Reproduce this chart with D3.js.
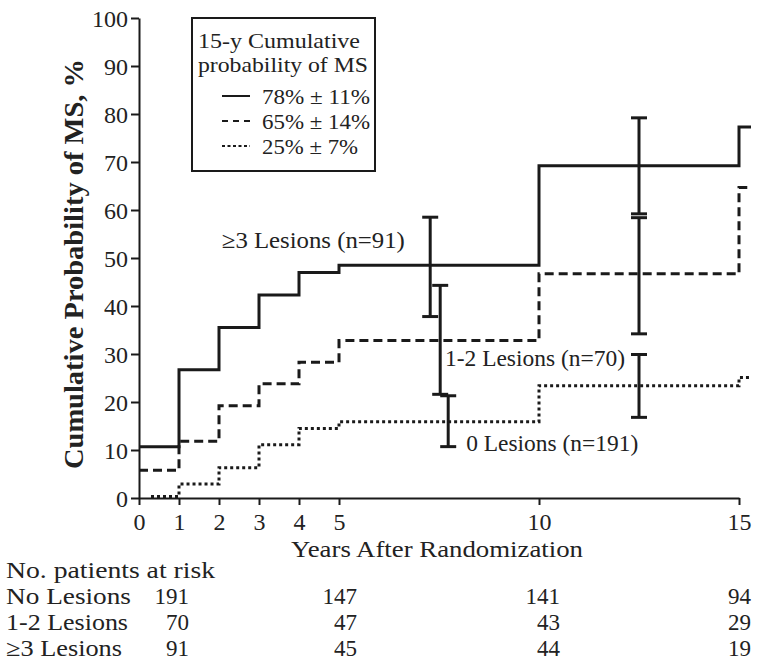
<!DOCTYPE html>
<html>
<head>
<meta charset="utf-8">
<script src="https://cdn.jsdelivr.net/npm/d3@7"></script>
<style>
  html, body { margin: 0; padding: 0; background: #fff; }
  svg text { font-family: "Liberation Serif", "Times New Roman", serif; fill: #222; }
</style>
</head>
<body>
<svg id="chart" width="762" height="667"></svg>
<script>
// ---- data ----
const xTicks = [0, 1, 2, 3, 4, 5, 10, 15];
const yTicks = [0, 10, 20, 30, 40, 50, 60, 70, 80, 90, 100];

const stepTimesSolid  = [0, 1, 2, 3, 4, 5, 10, 15];
const valuesSolid     = [10.7, 26.7, 35.5, 42.3, 47.0, 48.5, 69.2, 77.3];
const stepTimesDashed = [0, 1, 2, 3, 4, 5, 10, 15];
const valuesDashed    = [5.8, 11.8, 19.2, 23.8, 28.3, 32.8, 46.7, 64.7];
const stepTimesDotted = [0.3, 1, 2, 3, 4, 5, 10, 15];
const valuesDotted    = [0.3, 2.9, 6.3, 11.1, 14.5, 15.9, 23.4, 25.1];
const curveEnd = 15.3;

// error bars: [time, low, high]
const errSolid  = [[7.28, 37.8, 58.5], [12.5, 59.2, 79.2]];
const errDashed = [[7.53, 21.6, 44.3], [12.5, 34.2, 58.4]];
const errDotted = [[7.73, 10.7, 21.3], [12.5, 16.8, 29.9]];

const seriesNames  = ["\u22653 Lesions (n=91)", "1-2 Lesions (n=70)", "0 Lesions (n=191)"];
const legendTitle  = ["15-y Cumulative", "probability of MS"];
const legendLabels = ["78% \u00b1 11%", "65% \u00b1 14%", "25% \u00b1 7%"];
const riskTitle = "No. patients at risk";
const riskRowLabels = ["No Lesions", "1-2 Lesions", "\u22653 Lesions"];
const riskNoLesions = [191, 147, 141, 94];
const riskOneTwo    = [70, 47, 43, 29];
const riskThreePlus = [91, 45, 44, 19];

// ---- layout ----
const svg = d3.select("#chart");
const x = d3.scaleLinear().domain([0, 15]).range([139, 739]);
const y = d3.scaleLinear().domain([0, 100]).range([498, 18]);
const ink = "#1a1a1a";

function txt(px, py, s, size, width, anchor) {
  const t = svg.append("text").attr("x", px).attr("y", py)
    .attr("font-size", size).text(s);
  if (anchor) t.attr("text-anchor", anchor);
  if (width) t.attr("textLength", width).attr("lengthAdjust", "spacingAndGlyphs");
  return t;
}

// axes
const yAxis = svg.append("g").attr("transform", `translate(${x(0)},0)`)
  .call(d3.axisLeft(y).tickValues(yTicks).tickSize(8).tickPadding(3).tickSizeOuter(0));
yAxis.select(".domain").attr("stroke", ink).attr("stroke-width", 2);
yAxis.selectAll(".tick line").attr("stroke", ink).attr("stroke-width", 2);
yAxis.selectAll(".tick text").attr("font-size", 24).attr("fill", "#222")
  .attr("dy", "0.34em");

const xAxis = svg.append("g").attr("transform", `translate(0,${y(0)})`)
  .call(d3.axisBottom(x).tickValues(xTicks).tickSize(7).tickPadding(8).tickSizeOuter(0));
xAxis.select(".domain").attr("stroke", ink).attr("stroke-width", 2);
xAxis.selectAll(".tick line").attr("stroke", ink).attr("stroke-width", 2);
xAxis.selectAll(".tick text").attr("font-size", 24).attr("fill", "#222");

// axis titles
svg.append("text")
  .attr("transform", `translate(83,264) rotate(-90)`)
  .attr("text-anchor", "middle").attr("font-size", 28).attr("font-weight", "bold")
  .attr("textLength", 410).attr("lengthAdjust", "spacingAndGlyphs")
  .text("Cumulative Probability of MS, %");
txt(291, 557, "Years After Randomization", 24, 292);

// curves
function stepPoints(times, vals) {
  const pts = times.map((t, i) => [t, vals[i]]);
  pts.push([curveEnd, vals[vals.length - 1]]);
  return pts;
}
const line = d3.line().x(d => x(d[0])).y(d => y(d[1])).curve(d3.curveStepAfter);
const styles = [
  { times: stepTimesSolid, vals: valuesSolid, dash: null, err: errSolid },
  { times: stepTimesDashed, vals: valuesDashed, dash: "9,5", err: errDashed },
  { times: stepTimesDotted, vals: valuesDotted, dash: "3,3", err: errDotted }
];
styles.forEach(s => {
  svg.append("path").datum(stepPoints(s.times, s.vals))
    .attr("d", line).attr("fill", "none").attr("stroke", ink)
    .attr("stroke-width", 3).attr("stroke-dasharray", s.dash);
});

// error bars
styles.forEach(s => {
  const g = svg.append("g").attr("stroke", ink).attr("stroke-width", 3);
  s.err.forEach(([t, lo, hi]) => {
    g.append("line").attr("x1", x(t)).attr("x2", x(t)).attr("y1", y(lo)).attr("y2", y(hi));
    [lo, hi].forEach(v => g.append("line")
      .attr("x1", x(t) - 8).attr("x2", x(t) + 8).attr("y1", y(v)).attr("y2", y(v)));
  });
});

// series labels
const labelPos = [[2.07, 52.0], [7.65, 27.5], [8.18, 9.8]];
const labelWidths = [183, 180, 172];
seriesNames.forEach((n, i) => {
  txt(x(labelPos[i][0]), y(labelPos[i][1]), n, 23, labelWidths[i]);
});

// legend
svg.append("rect").attr("x", 192).attr("y", 18).attr("width", 183).attr("height", 153)
  .attr("fill", "#fff").attr("stroke", ink).attr("stroke-width", 2);
txt(198, 48, legendTitle[0], 21.5, 162);
txt(198, 72, legendTitle[1], 21.5, 170);
const legDash = [null, "6,5", "3,2.5"];
const legWidths = [108, 108, 96];
legendLabels.forEach((l, i) => {
  const yy = 96 + i * 25;
  svg.append("line").attr("x1", 222).attr("x2", 250).attr("y1", yy).attr("y2", yy)
    .attr("stroke", ink).attr("stroke-width", 2).attr("stroke-dasharray", legDash[i]);
  txt(262, yy + 8, l, 22, legWidths[i]);
});

// risk table
txt(6, 578, riskTitle, 23, 209);
const riskRows = [riskNoLesions, riskOneTwo, riskThreePlus];
const rowLabelWidths = [125, 122, 116];
const colRight = [189, 357, 560, 751];
riskRows.forEach((row, r) => {
  const yy = 604 + r * 26;
  txt(6, yy, riskRowLabels[r], 23, rowLabelWidths[r]);
  row.forEach((v, c) => txt(colRight[c], yy, v, 23, null, "end"));
});
</script>
</body>
</html>
